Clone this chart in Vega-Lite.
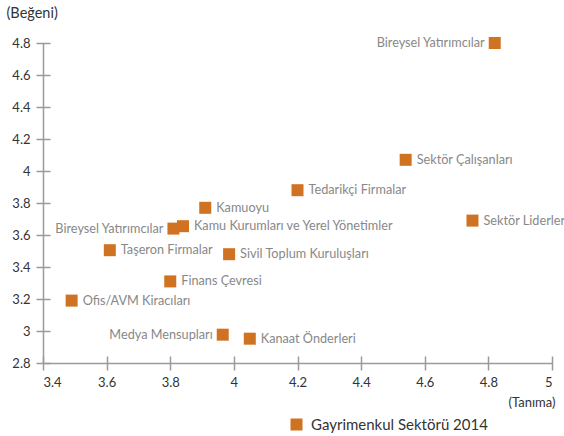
{
  "$schema": "https://vega.github.io/schema/vega-lite/v6.json",
  "autosize": {"type": "none"},
  "padding": {"left": 43, "top": 43, "right": 12, "bottom": 73},
  "width": 509,
  "height": 320,
  "config": {
    "view": {"stroke": null},
    "font": "Lato",
    "axis": {"domainColor": "#9a9a9a", "tickColor": "#9a9a9a", "domainWidth": 1.5, "tickWidth": 1.5, "grid": false, "labelFont": "Lato", "labelFontSize": 13, "labelColor": "#333333", "titleFont": "Lato", "titleFontWeight": "normal", "titleColor": "#333333"}
  },
  "data": {
    "values": [
      {"ad": "Bireysel Yatırımcılar", "tanima": 4.82, "begeni": 4.8, "seri": "Gayrimenkul Sektörü 2014"},
      {"ad": "Sektör Çalışanları", "tanima": 4.54, "begeni": 4.07, "seri": "Gayrimenkul Sektörü 2014"},
      {"ad": "Sektör Liderleri", "tanima": 4.75, "begeni": 3.69, "seri": "Gayrimenkul Sektörü 2014"},
      {"ad": "Tedarikçi Firmalar", "tanima": 4.2, "begeni": 3.88, "seri": "Gayrimenkul Sektörü 2014"},
      {"ad": "Kamuoyu", "tanima": 3.91, "begeni": 3.77, "seri": "Gayrimenkul Sektörü 2014"},
      {"ad": "Kamu Kurumları ve Yerel Yönetimler", "tanima": 3.84, "begeni": 3.655, "seri": "Gayrimenkul Sektörü 2014"},
      {"ad": "Bireysel Yatırımcılar", "tanima": 3.81, "begeni": 3.64, "seri": "Gayrimenkul Sektörü 2014"},
      {"ad": "Taşeron Firmalar", "tanima": 3.61, "begeni": 3.505, "seri": "Gayrimenkul Sektörü 2014"},
      {"ad": "Sivil Toplum Kuruluşları", "tanima": 3.985, "begeni": 3.48, "seri": "Gayrimenkul Sektörü 2014"},
      {"ad": "Finans Çevresi", "tanima": 3.8, "begeni": 3.31, "seri": "Gayrimenkul Sektörü 2014"},
      {"ad": "Ofis/AVM Kiracıları", "tanima": 3.49, "begeni": 3.19, "seri": "Gayrimenkul Sektörü 2014"},
      {"ad": "Medya Mensupları", "tanima": 3.965, "begeni": 2.977, "seri": "Gayrimenkul Sektörü 2014"},
      {"ad": "Kanaat Önderleri", "tanima": 4.05, "begeni": 2.952, "seri": "Gayrimenkul Sektörü 2014"}
    ]
  },
  "encoding": {
    "x": {"field": "tanima", "type": "quantitative", "scale": {"domain": [3.4, 5], "nice": false, "zero": false},
      "axis": {"orient": "bottom", "values": [3.4, 3.6, 3.8, 4, 4.2, 4.4, 4.6, 4.8, 5], "format": ".1~f", "tickSize": 7, "labelPadding": 6,
        "encoding": {"ticks": {"y": {"value": -7}}},
        "title": "(Tanıma)", "titleFontSize": 13, "titleAlign": "right", "titleAnchor": null, "titleX": 512, "titleY": 43, "titleBaseline": "alphabetic"}},
    "y": {"field": "begeni", "type": "quantitative", "scale": {"domain": [2.8, 4.8], "nice": false, "zero": false},
      "axis": {"orient": "left", "values": [2.8, 3, 3.2, 3.4, 3.6, 3.8, 4, 4.2, 4.4, 4.6, 4.8], "format": ".1~f", "tickSize": 7, "labelPadding": 6,
        "encoding": {"ticks": {"x": {"value": 7}}},
        "title": "(Beğeni)", "titleFontSize": 14.5, "titleAngle": 0, "titleAlign": "left", "titleAnchor": null, "titleX": -37, "titleY": -26, "titleBaseline": "alphabetic"}}
  },
  "layer": [
    {
      "mark": {"type": "point", "shape": "square", "filled": true, "size": 144, "opacity": 1},
      "encoding": {
        "color": {"field": "seri", "type": "nominal", "scale": {"range": ["#cf7222"]},
          "legend": {"title": null, "orient": "none", "legendX": 246, "legendY": 374, "symbolType": "square", "symbolSize": 144, "symbolOpacity": 1, "labelFontSize": 15, "labelColor": "#333333", "labelFont": "Lato", "labelOffset": 7, "labelLimit": 400}}
      }
    },
    {
      "transform": [{"filter": {"field": "ad", "oneOf": ["Bireysel Yatırımcılar", "Medya Mensupları"]}}],
      "mark": {"type": "text", "align": "right", "baseline": "middle", "dx": -10, "fontSize": 12.7, "color": "#888888"},
      "encoding": {"text": {"field": "ad"}}
    },
    {
      "transform": [{"filter": {"not": {"field": "ad", "oneOf": ["Bireysel Yatırımcılar", "Medya Mensupları"]}}}],
      "mark": {"type": "text", "align": "left", "baseline": "middle", "dx": 11, "fontSize": 12.7, "color": "#888888"},
      "encoding": {"text": {"field": "ad"}}
    }
  ]
}
